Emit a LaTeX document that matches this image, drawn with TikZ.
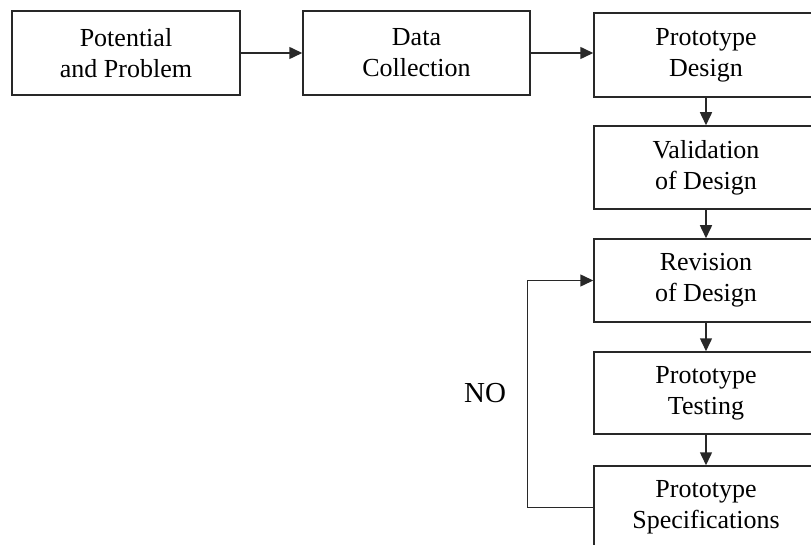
\documentclass[tikz,border=0pt]{standalone}
\usepackage{fontspec}
\setmainfont{Liberation Serif}
\usetikzlibrary{positioning, calc}
\usetikzlibrary{arrows.meta}

\begin{document}
\begin{tikzpicture}[x=1pt,y=-1pt]
\definecolor{linegray}{RGB}{40,40,40};
\useasboundingbox (0,0) rectangle (811,545);
\clip (0,0) rectangle (811,545);
\tikzstyle{stepbox}=[draw=linegray, line width=1.5pt, shape=rectangle, inner sep=0pt, align=center, font=\fontsize{26}{31}\selectfont];
\tikzstyle{flow}=[draw=linegray, line width=1.5pt, -{Triangle[length=13pt,width=12pt]}];
% top row
\node[stepbox, minimum width=228pt, minimum height=84pt] (potential) at (126,53) {Potential\\and Problem};
\node[stepbox, minimum width=227pt, minimum height=84pt] (data) at (416.5,53) {Data\\Collection};
\node[stepbox, minimum width=224pt, minimum height=84pt] (design) at (706,55) {Prototype\\Design};
% right column
\node[stepbox, minimum width=224pt, minimum height=83pt] (valid) at (706,167.5) {Validation\\of Design};
\node[stepbox, minimum width=224pt, minimum height=83pt] (revis) at (706,280.5) {Revision\\of Design};
\node[stepbox, minimum width=224pt, minimum height=82pt] (test) at (706,393) {Prototype\\Testing};
\node[stepbox, minimum width=224pt, minimum height=83pt] (spec) at (706,507.5) {Prototype\\Specifications};
\draw[flow] (potential) -- (data);
\draw[flow] (data) -- (design.west |- data);
\foreach \a/\b in {design/valid, valid/revis, revis/test, test/spec}
\draw[flow] (\a) -- (\b);
% feedback loop
\draw[flow] (spec.west) -- ++(-66,0) |- (revis.west);
\node[font=\fontsize{29}{34}\selectfont] (no) at (485,393) {NO};
\end{tikzpicture}
\end{document}
